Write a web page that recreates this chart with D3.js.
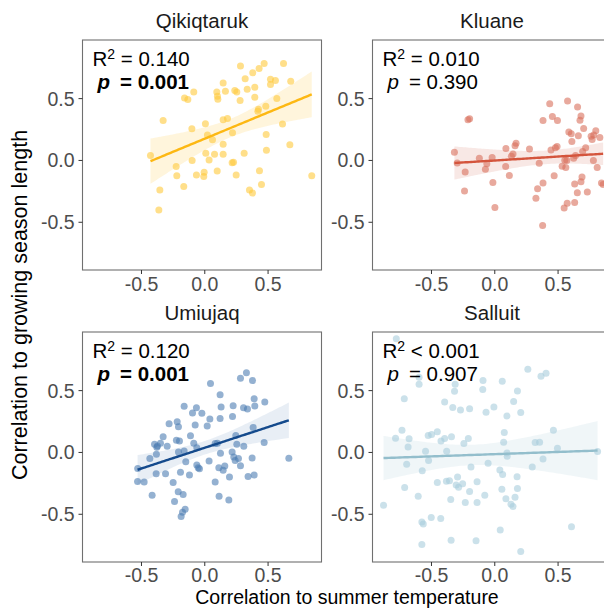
<!DOCTYPE html>
<html><head><meta charset="utf-8">
<script src="https://cdn.jsdelivr.net/npm/d3@7"></script>
<style>body{margin:0;background:#fff}svg{display:block}text{font-family:"Liberation Sans",Arial,sans-serif}</style>
</head><body>
<script>
// ---------- data ----------
const sites = ["Qikiqtaruk", "Kluane", "Umiujaq", "Salluit"];
const r2Ops = ["= 0.140", "= 0.010", "= 0.120", "< 0.001"];
const pLabels = ["= 0.001", "= 0.390", "= 0.001", "= 0.907"];
const pBold = [true, false, true, false];
const xTicks = [-0.5, 0, 0.5];
const yTicks = [-0.5, 0, 0.5];
const xDomain = [-0.962, 0.926];
const yDomain = [-0.89, 0.97];
const pointColors = ["#FFC93C", "#D9705C", "#4D7DB3", "#A9CDDC"];
const lineColors = ["#FDB813", "#D4553D", "#144A8C", "#93BECC"];
const bandColors = ["#FFF3D6", "#F7E4E0", "#E4EBF3", "#EDF4F7"];

const qikiqtarukPts = [[0.286,0.759],[0.473,0.780],[0.626,0.780],[0.383,0.705],[0.433,0.740],[0.323,0.656],[0.523,0.653],[0.562,0.642],[0.683,0.637],[0.149,0.623],[0.399,0.588],[0.523,0.610],[-0.083,0.550],[0.099,0.550],[0.167,0.556],[0.241,0.561],[0.257,0.550],[0.339,0.572],[-0.156,0.501],[-0.130,0.488],[0.104,0.515],[0.107,0.491],[0.283,0.480],[0.399,0.507],[0.573,0.496],[0.486,0.434],[0.428,0.409],[0.423,0.393],[-0.325,0.320],[0.149,0.325],[0.183,0.336],[0.009,0.293],[-0.098,0.252],[0.618,0.290],[0.223,0.220],[0.025,0.201],[0.065,0.163],[0.489,0.206],[0.149,0.127],[0.676,0.122],[0.491,0.079],[-0.425,0.035],[0.012,0.054],[0.081,0.046],[0.149,0.046],[0.315,0.054],[-0.096,-0.005],[0.038,0.000],[0.220,-0.022],[0.231,-0.019],[-0.222,-0.054],[0.102,-0.089],[0.436,-0.087],[-0.217,-0.127],[-0.062,-0.122],[-0.001,-0.100],[-0.004,-0.133],[0.252,-0.122],[0.849,-0.127],[0.452,-0.198],[-0.162,-0.214],[-0.351,-0.244],[0.357,-0.244],[0.381,-0.268],[-0.359,-0.404]];

const kluanePts = [[0.438,0.455],[0.579,0.477],[0.658,0.428],[-0.195,0.333],[-0.208,0.325],[0.385,0.320],[0.459,0.352],[0.499,0.320],[0.685,0.355],[0.677,0.322],[0.706,0.255],[0.589,0.225],[0.608,0.211],[0.664,0.195],[0.765,0.192],[0.802,0.236],[0.786,0.201],[0.834,0.182],[0.773,0.165],[0.172,0.136],[0.164,0.114],[0.092,0.092],[0.278,0.089],[0.496,0.108],[0.613,0.149],[0.448,0.081],[0.483,0.098],[0.722,0.098],[0.698,0.068],[0.148,0.049],[0.135,0.030],[-0.315,0.062],[-0.293,-0.024],[-0.118,0.014],[-0.017,0.019],[-0.070,-0.076],[-0.059,-0.030],[0.090,-0.054],[0.355,-0.027],[0.573,-0.005],[0.642,0.035],[0.627,0.014],[0.557,-0.003],[0.536,-0.051],[0.565,-0.062],[0.783,-0.005],[0.813,-0.062],[-0.230,-0.098],[0.119,-0.125],[0.473,-0.127],[-0.011,-0.182],[0.385,-0.187],[0.693,-0.138],[0.685,-0.176],[0.635,-0.195],[0.342,-0.233],[-0.235,-0.252],[0.656,-0.266],[0.735,-0.260],[0.847,-0.187],[0.860,-0.198],[0.329,-0.309],[0.576,-0.350],[0.552,-0.388],[0.635,-0.344],[0.005,-0.385],[0.382,-0.531]];

const umiujaqPts = [[0.333,0.640],[0.286,0.596],[0.381,0.577],[0.049,0.553],[0.125,0.463],[0.394,0.431],[0.478,0.404],[-0.159,0.369],[-0.062,0.358],[-0.019,0.312],[-0.093,0.314],[0.133,0.363],[0.228,0.374],[0.310,0.358],[0.341,0.347],[0.399,0.371],[-0.278,0.228],[-0.214,0.244],[-0.204,0.203],[-0.072,0.217],[0.023,0.209],[0.044,0.266],[0.125,0.271],[0.223,0.287],[-0.325,0.122],[-0.220,0.095],[-0.196,0.089],[-0.393,0.062],[-0.370,0.049],[-0.346,0.070],[-0.375,0.038],[-0.293,0.046],[-0.109,0.130],[-0.083,0.070],[-0.059,0.033],[0.086,0.068],[0.104,0.070],[0.249,0.133],[0.257,0.062],[0.312,0.046],[0.386,0.198],[0.473,0.076],[-0.378,-0.019],[-0.430,-0.054],[-0.204,0.000],[-0.159,0.008],[-0.146,-0.079],[-0.059,-0.106],[-0.048,-0.127],[-0.038,-0.136],[0.038,-0.073],[0.128,-0.011],[0.220,0.000],[0.233,-0.041],[0.244,-0.070],[0.270,-0.054],[0.286,-0.111],[0.115,-0.127],[0.162,-0.114],[0.149,-0.149],[0.378,-0.049],[0.668,-0.051],[-0.526,-0.133],[-0.380,-0.176],[-0.306,-0.176],[-0.188,-0.165],[-0.117,-0.187],[0.199,-0.203],[0.346,-0.198],[0.394,-0.187],[-0.527,-0.238],[-0.475,-0.244],[-0.246,-0.247],[0.086,-0.244],[-0.412,-0.350],[-0.206,-0.322],[-0.167,-0.344],[0.117,-0.358],[0.194,-0.388],[-0.235,-0.401],[-0.151,-0.463],[-0.172,-0.488],[-0.183,-0.523]];

const salluitPts = [[-0.774,0.916],[0.265,0.669],[0.369,0.612],[0.409,0.637],[-0.594,0.604],[-0.594,0.547],[-0.089,0.577],[0.063,0.572],[-0.309,0.547],[-0.314,0.491],[-0.091,0.504],[0.183,0.493],[-0.711,0.431],[-0.392,0.404],[0.153,0.407],[-0.328,0.360],[-0.267,0.339],[-0.195,0.350],[-0.065,0.322],[-0.003,0.363],[0.209,0.320],[0.100,0.290],[-0.729,0.176],[-0.780,0.111],[-0.673,0.106],[-0.681,0.041],[-0.522,0.133],[-0.495,0.141],[-0.450,0.163],[-0.421,0.089],[-0.392,0.108],[-0.338,0.122],[-0.240,0.068],[-0.205,0.108],[0.079,0.157],[0.074,0.079],[0.100,-0.008],[0.102,-0.035],[0.323,0.076],[0.358,0.079],[0.467,0.176],[0.499,0.030],[-0.543,0.005],[-0.519,-0.070],[-0.376,0.005],[-0.692,-0.100],[-0.569,-0.152],[-0.184,-0.122],[-0.049,-0.092],[0.044,-0.146],[0.066,-0.182],[0.180,-0.201],[0.300,-0.122],[0.385,-0.057],[0.816,0.003],[-0.450,-0.247],[-0.378,-0.236],[-0.354,-0.233],[-0.290,-0.203],[-0.301,-0.268],[-0.282,-0.285],[-0.250,-0.257],[-0.136,-0.241],[-0.195,-0.320],[-0.708,-0.287],[-0.601,-0.358],[-0.344,-0.385],[-0.229,-0.409],[-0.136,-0.409],[-0.075,-0.350],[0.060,-0.301],[0.092,-0.379],[0.132,-0.423],[0.148,-0.442],[0.164,-0.366],[0.183,-0.295],[-0.875,-0.431],[-0.498,-0.531],[-0.572,-0.566],[-0.561,-0.583],[-0.423,-0.539],[0.047,-0.631],[0.610,-0.604],[-0.572,-0.748],[-0.341,-0.715],[-0.144,-0.718],[0.209,-0.805]];

const allPts = [qikiqtarukPts, kluanePts, umiujaqPts, salluitPts];

// ---------- layout ----------
const W = 604, H = 608;
const panelW = 239, panelH = 230;
const colX = [82.5, 372.5], rowY = [40, 332];
const FONT = '"Liberation Sans", Arial, sans-serif';

const svg = d3.select("body").append("svg").attr("width", W).attr("height", H);

function fitLm(pts) {
  const n = pts.length;
  const mx = d3.mean(pts, d => d[0]), my = d3.mean(pts, d => d[1]);
  let sxx = 0, sxy = 0;
  pts.forEach(d => { sxx += (d[0]-mx)**2; sxy += (d[0]-mx)*(d[1]-my); });
  const b = sxy / sxx, a = my - b*mx;
  let sse = 0; pts.forEach(d => { sse += (d[1] - a - b*d[0])**2; });
  const s = Math.sqrt(sse/(n-2));
  const t = 1.99;
  const [x0, x1] = d3.extent(pts, d => d[0]);
  const grid = d3.range(0, 81).map(i => x0 + (x1-x0)*i/80);
  return grid.map(x => {
    const yhat = a + b*x;
    const se = s*Math.sqrt(1/n + (x-mx)**2/sxx);
    return {x, y: yhat, lo: yhat - t*se, hi: yhat + t*se};
  });
}

const fmt = v => v.toFixed(1);

sites.forEach((site, i) => {
  const col = i % 2, row = Math.floor(i/2);
  const g = svg.append("g").attr("transform", `translate(${colX[col]},${rowY[row]})`);
  const x = d3.scaleLinear().domain(xDomain).range([0, panelW]);
  const y = d3.scaleLinear().domain(yDomain).range([panelH, 0]);
  const pts = allPts[i];
  const fit = fitLm(pts);

  g.append("path").datum(fit)
    .attr("d", d3.area().x(d => x(d.x)).y0(d => y(d.lo)).y1(d => y(d.hi)))
    .attr("fill", bandColors[i]).attr("opacity", 0.85);

  g.selectAll("circle").data(pts).join("circle")
    .attr("cx", d => x(d[0])).attr("cy", d => y(d[1])).attr("r", 3.5)
    .attr("fill", pointColors[i]).attr("fill-opacity", 0.6);

  g.append("path").datum(fit)
    .attr("d", d3.line().x(d => x(d.x)).y(d => y(d.y)))
    .attr("fill", "none").attr("stroke", lineColors[i]).attr("stroke-width", 2.4);

  g.append("rect").attr("x", 0).attr("y", 0).attr("width", panelW).attr("height", panelH)
    .attr("fill", "none").attr("stroke", "#707070").attr("stroke-width", 1.1);

  const xa = g.append("g").attr("transform", `translate(0,${panelH})`)
    .call(d3.axisBottom(x).tickValues(xTicks).tickFormat(fmt).tickSize(4).tickPadding(3));
  const ya = g.append("g")
    .call(d3.axisLeft(y).tickValues(yTicks).tickFormat(fmt).tickSize(4).tickPadding(4));
  [xa, ya].forEach(a => {
    a.select(".domain").remove();
    a.selectAll("line").attr("stroke", "#333").attr("stroke-width", 1);
    a.selectAll("text").attr("fill", "#4d4d4d").style("font-size", "19.5px").style("font-family", FONT);
  });
  xa.selectAll("text").attr("y", 0).attr("dy", 0).attr("transform", `translate(0,${row === 0 ? 21 : 19.5})`);
  ya.selectAll("text").attr("dy", "0.36em");

  g.append("text").attr("x", panelW/2).attr("y", -12).attr("text-anchor", "middle")
    .style("font-size", "20.5px").attr("fill", "#1a1a1a").text(site);

  const rt = g.append("text").attr("x", 10).attr("y", 26).style("font-size", "20.5px").attr("fill", "#000");
  rt.append("tspan").text("R");
  rt.append("tspan").attr("dy", -7).style("font-size", "14px").text("2");
  rt.append("tspan").attr("dy", 7).text(" " + r2Ops[i]);

  const pt = g.append("text").attr("x", 15).attr("y", 49).style("font-size", "20.5px").attr("fill", "#000");
  pt.append("tspan").style("font-style", "italic").style("font-weight", pBold[i] ? "bold" : "normal").text("p");
  pt.append("tspan").attr("dx", 10).style("font-weight", pBold[i] ? "bold" : "normal").text(pLabels[i]);
});

svg.append("text").attr("x", 347).attr("y", 604).attr("text-anchor", "middle")
  .style("font-size", "19.5px").attr("fill", "#000").text("Correlation to summer temperature");
svg.append("text").attr("transform", "translate(27,305) rotate(-90)").attr("text-anchor", "middle")
  .style("font-size", "21.5px").attr("fill", "#000").text("Correlation to growing season length");
</script>
</body></html>
